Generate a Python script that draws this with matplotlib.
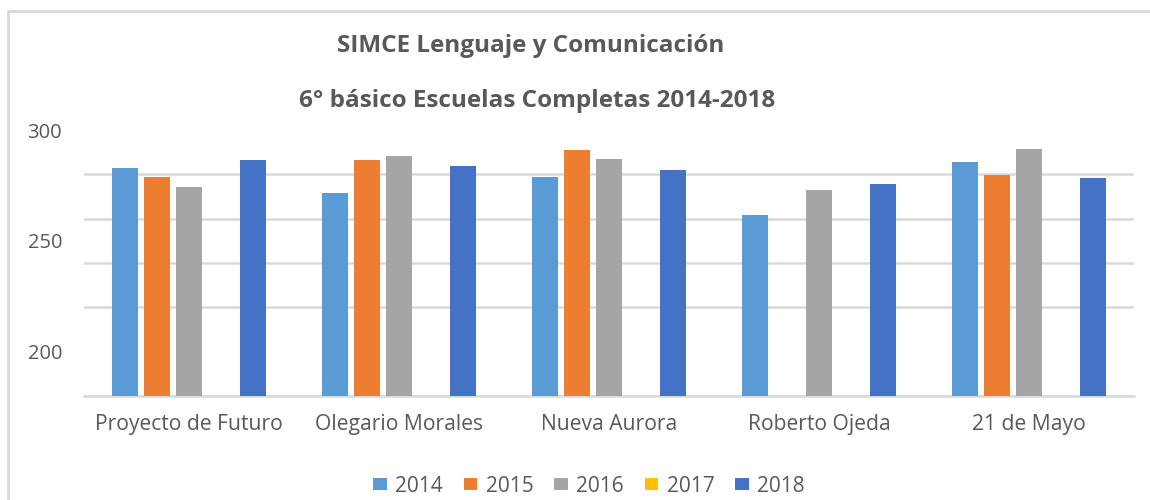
import numpy as np
import matplotlib
matplotlib.use("Agg")
import matplotlib.pyplot as plt
from matplotlib.patches import Rectangle

categories = ["Proyecto de Futuro", "Olegario Morales", "Nueva Aurora", "Roberto Ojeda", "21 de Mayo"]
years = ["2014", "2015", "2016", "2017", "2018"]
v2014 = [282.9, 271.6, 278.8, 261.7, 285.6]
v2015 = [278.8, 286.5, 291.0, np.nan, 279.7]
v2016 = [274.3, 288.3, 286.9, 272.9, 291.4]
v2017 = [np.nan, np.nan, np.nan, np.nan, np.nan]
v2018 = [286.5, 283.8, 282.0, 275.6, 278.3]
series = [v2014, v2015, v2016, v2017, v2018]
colors = ["#5B9BD5", "#ED7D31", "#A5A5A5", "#FFC000", "#4472C4"]
title_lines = ["SIMCE Lenguaje y Comunicación", "6° básico Escuelas Completas 2014-2018"]
yticks = [200, 250, 300]

plt.rcParams['font.family'] = ['Open Sans', 'DejaVu Sans']
txt = "#595959"

W, H = 1150, 500
fig = plt.figure(figsize=(W / 100, H / 100), dpi=100)
# outer chart frame (clipped at right/bottom like reference)
fig.patches.append(Rectangle((8 / W, -0.1), 1.2, 1 - 11 / H + 0.1, transform=fig.transFigure,
                             fill=False, edgecolor="#d9d9d9", linewidth=2))

ax = fig.add_axes([84 / W, 1 - 396 / H, 1050 / W, 266 / H])
x = np.arange(len(categories))
step = 32 / 210
width = 26 / 210
for j, (vals, c, yr) in enumerate(zip(series, colors, years)):
    ax.bar(x + (j - 2) * step, vals, width=width, color=c, label=yr, zorder=3)

ax.set_xlim(-0.5, len(categories) - 0.5)
ax.set_ylim(180, 300)
ax.set_yticks(yticks)
ax.set_yticks(np.arange(180, 301, 20), minor=True)
ax.grid(axis="y", which="minor", color="#d9d9d9", linewidth=1.8, zorder=0)
ax.tick_params(axis="y", which="both", length=0, pad=15.8, labelsize=14.5, labelcolor=txt)
ax.set_xticks(x)
ax.set_xticklabels(categories)
ax.tick_params(axis="x", length=0, pad=13, labelsize=15.2, labelcolor=txt)
for s in ["top", "left", "right"]:
    ax.spines[s].set_visible(False)
ax.spines["bottom"].set_color("#d9d9d9")
ax.spines["bottom"].set_linewidth(1.8)

fig.text(531 / W, 1 - 46 / H, title_lines[0], ha="center", va="center",
         fontsize=17.5, fontweight="bold", color=txt)
fig.text(537 / W, 1 - 101 / H, title_lines[1], ha="center", va="center",
         fontsize=17.5, fontweight="bold", color=txt)

leg = fig.legend(loc="center", bbox_to_anchor=(589 / W, 1 - 486 / H), ncol=5, frameon=False,
                 fontsize=15, handlelength=0.65, handleheight=0.45, handletextpad=0.4,
                 columnspacing=1.0, labelcolor=txt)

fig.savefig("out.png", dpi=100, facecolor="white")
